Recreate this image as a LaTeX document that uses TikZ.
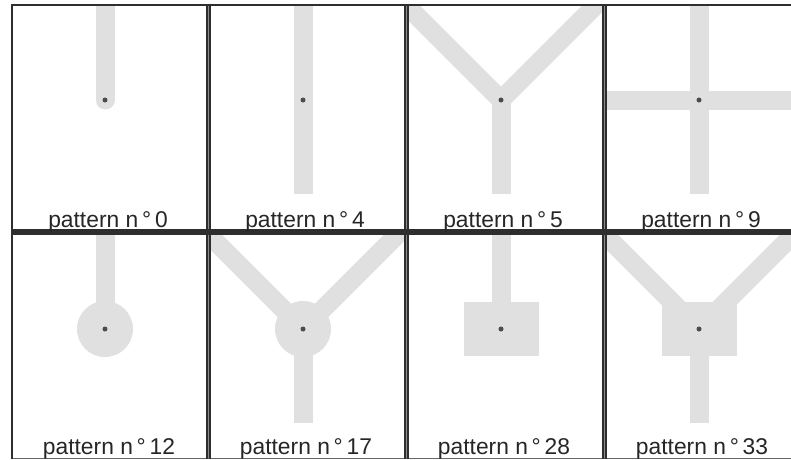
\documentclass[tikz,border=0pt]{standalone}
\usepackage{fontspec}
\setmainfont{Liberation Sans}
\definecolor{traceg}{HTML}{E0E0E0}
\tikzset{
  x=1pt,y=-1pt,
  cellframe/.style={draw=black!82,line width=2.1pt},
  framegap/.style={draw=black!45,line width=1.4pt},
  trace/.style={draw=traceg,line width=19pt,line cap=butt,line join=miter},
  pad/.style={fill=traceg},
  via/.style={circle,fill=black!70,inner sep=0pt,minimum size=5pt},
  patcap/.style={font=\fontsize{22.8}{24}\selectfont,text=black!85,anchor=base,inner sep=0pt}
}
\newcommand{\patlabel}[3]{\node[patcap] (l#3) at (#1,#2) {pattern n\,°\,#3};}
\begin{document}
\begin{tikzpicture}
\useasboundingbox (0,0) rectangle (791,459);
\fill[white] (0,0) rectangle (791,459);
% ---- row 1
\begin{scope}
\clip (12,5) rectangle (791,232);
\draw[trace,line cap=round] (105,0) -- (105,100);
\draw[trace] (303,0) -- (303,194);
\begin{scope}
\clip (408,5) rectangle (603,232);
\draw[trace] (501,194) -- (501,95);
\draw[trace] (501,100) -- (401,0);
\draw[trace] (501,100) -- (601,0);
\end{scope}
\draw[trace] (699,0) -- (699,194);
\draw[trace] (606,100) -- (791,100);
\end{scope}
% ---- row 2
\begin{scope}
\clip (12,232) rectangle (791,459);
\draw[trace] (105,232) -- (105,329);
\fill[pad] (105,329) circle (28);
\begin{scope}
\clip (210,232) rectangle (405,459);
\draw[trace] (303,423) -- (303,329);
\draw[trace] (303,329) -- (203,229);
\draw[trace] (303,329) -- (403,229);
\fill[pad] (303,329) circle (28);
\end{scope}
\draw[trace] (501,232) -- (501,329);
\fill[pad] (464,302) rectangle (539,356);
\begin{scope}
\clip (606,232) rectangle (791,459);
\draw[trace] (699,423) -- (699,329);
\draw[trace] (699,329) -- (599,229);
\draw[trace] (699,329) -- (799,229);
\fill[pad] (662,302) rectangle (737,356);
\end{scope}
\end{scope}
% ---- frame
\draw[framegap] (11,232) -- (791,232);
\foreach \x in {208.2,406.2,604.2} \draw[framegap] (\x,4) -- (\x,459);
\draw[cellframe] (11,5) -- (791,5);
\draw[cellframe] (11,230.5) -- (791,230.5);
\draw[cellframe] (11,233.5) -- (791,233.5);
\draw[draw=black!60,line width=1pt] (11,458) -- (791,458);
\draw[cellframe,line width=2.6pt] (12,4) -- (12,459);
\foreach \x in {206.7,209.7,404.7,407.7,602.7,605.7} \draw[cellframe] (\x,4) -- (\x,459);
% ---- vias
\foreach \x/\n in {105/a,303/b,501/c,699/d} {
  \node[via] (v\n1) at (\x,100) {};
  \node[via] (v\n2) at (\x,329) {};
}
% ---- labels
\patlabel{108}{227}{0}
\patlabel{305}{227}{4}
\patlabel{503}{227}{5}
\patlabel{701}{227}{9}
\patlabel{109}{454.5}{12}
\patlabel{306}{454.5}{17}
\patlabel{504}{454.5}{28}
\patlabel{702}{454.5}{33}
\end{tikzpicture}
\end{document}
